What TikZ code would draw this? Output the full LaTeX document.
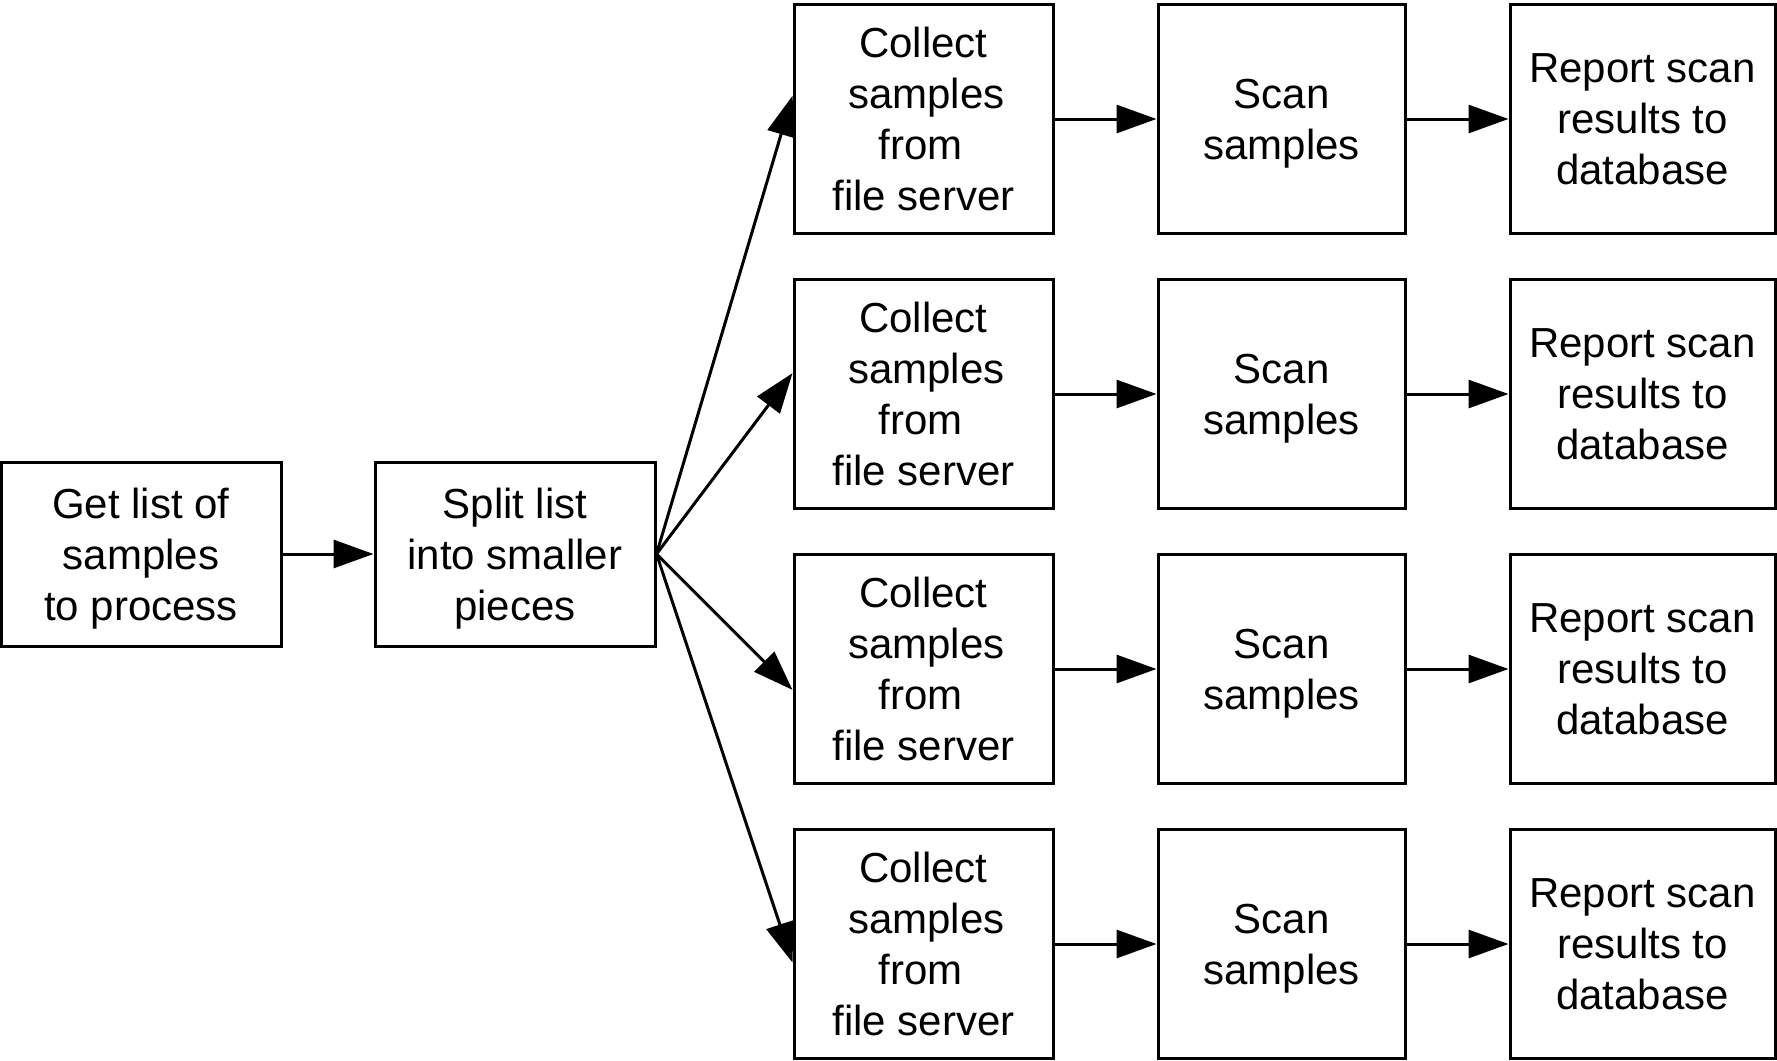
\documentclass[tikz,border=0pt]{standalone}
\usepackage{fontspec}
\setmainfont{Liberation Sans}
\usetikzlibrary{arrows.meta,calc}
\begin{document}
\begin{tikzpicture}[x=0.5pt,y=-0.5pt,
  box/.style={draw,line width=1.5pt,inner sep=0pt,align=center,text depth=-2.6pt,font=\fontsize{21}{25.5}\selectfont},
  wide/.style={minimum width=140pt,minimum height=92pt},
  collectbox/.style={minimum width=129.5pt,minimum height=114.5pt},
  scanbox/.style={minimum width=123.5pt,minimum height=114.5pt},
  reportbox/.style={minimum width=132.5pt,minimum height=114.5pt},
  arr/.style={line width=1.5pt,-{Triangle[length=20pt,width=14pt]}}]
\useasboundingbox (0,0) rectangle (1777,1060);
\node[box,wide] (g) at (141,554) {Get list of\\samples\\to process};
\node[box,wide] (s) at (515,554) {Split list\\into smaller\\pieces};
\foreach \i/\y in {1/119,2/394,3/669,4/944}{
  \node[box,collectbox] (c\i) at (923.5,\y) {Collect\\\kern2.9pt samples\\from\kern2.9pt\\file server};
  \node[box,scanbox] (sc\i) at (1281.5,\y) {Scan\\samples};
  \node[box,reportbox] (r\i) at (1642.5,\y) {Report scan\\results to\\database};
  \draw[arr] (c\i) -- (sc\i);
  \draw[arr] (sc\i) -- (r\i);
}
\draw[arr] (g) -- (s);
\draw[arr] (s.east) -- ($(c1.north west)!0.40!(c1.south west)$);
\draw[arr] (s.east) -- ($(c2.north west)!0.41!(c2.south west)$);
\draw[arr] (s.east) -- ($(c3.north west)!0.59!(c3.south west)$);
\draw[arr] (s.east) -- ($(c4.north west)!0.58!(c4.south west)$);
\end{tikzpicture}
\end{document}
